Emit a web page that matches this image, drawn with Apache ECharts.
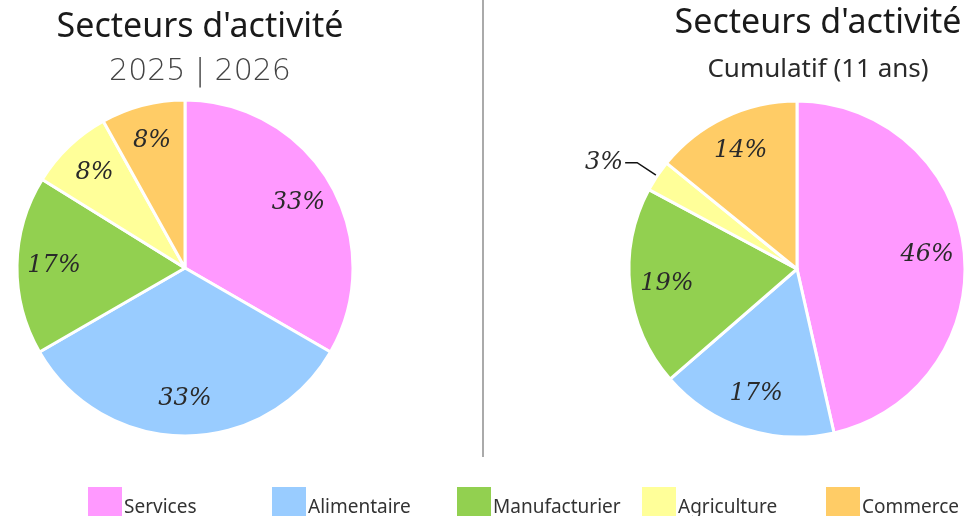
<!DOCTYPE html>
<html>
<head>
<meta charset="utf-8">
<script src="https://cdn.jsdelivr.net/npm/echarts@6/dist/echarts.min.js"></script>
<style>
  html, body { margin: 0; padding: 0; background: #fff; }
  #chart { width: 972px; height: 516px; }
</style>
</head>
<body>
<div id="chart"></div>
<script>
  // secteurs (legende)
  var categories = ['Services', 'Alimentaire', 'Manufacturier', 'Agriculture', 'Commerce']
  var values2025 = [33, 33, 17, 8, 8]
  var valuesCumul = [46, 17, 19, 3, 14]
  var colors = ['#FF99FF', '#99CCFF', '#92D050', '#FFFF99', '#FFCC66']

  var chart = echarts.init(document.getElementById('chart'))

  var labelFont = {
    color: '#2a2a2a',
    fontSize: 24,
    fontFamily: 'DejaVu Serif',
    fontStyle: 'italic',
    fontWeight: 'lighter'
  }

  // camembert plein (couleurs + etiquette exterieure eventuelle)
  function basePie(values, center, outsideName) {
    return {
      type: 'pie',
      center: center,
      radius: 168,
      startAngle: 90,
      clockwise: true,
      animation: false,
      itemStyle: { borderColor: '#fff', borderWidth: 3 },
      label: { show: false },
      labelLine: { show: false },
      emphasis: { disabled: true },
      data: categories.map(function (name, i) {
        var d = { name: name, value: values[i], itemStyle: { color: colors[i] } }
        if (name === outsideName) {
          d.label = Object.assign({ show: true, position: 'outside', formatter: '{c}%', distanceToLabelLine: 2 }, labelFont)
          d.labelLine = { show: true, length: 24, length2: 12, lineStyle: { color: '#111', width: 1.5 } }
        }
        return d
      })
    }
  }

  // anneau transparent pour placer les etiquettes a ~3/4 du rayon
  function labelRing(values, center, outsideName) {
    return {
      type: 'pie',
      center: center,
      radius: [88, 168],
      startAngle: 90,
      silent: true,
      animation: false,
      itemStyle: { color: 'rgba(0,0,0,0)' },
      labelLine: { show: false },
      label: Object.assign({ show: true, position: 'inside', formatter: '{c}%' }, labelFont),
      data: categories.map(function (name, i) {
        var d = { name: name, value: values[i] }
        if (name === outsideName) d.label = { show: false }
        return d
      })
    }
  }

  var legends = categories.map(function (name, i) {
    return {
      data: [name],
      left: [86, 270, 455, 640, 824][i],
      top: 485,
      itemWidth: 36,
      itemHeight: 34,
      itemGap: 0,
      padding: 0,
      selectedMode: false,
      icon: 'rect',
      formatter: '{a|{name}}',
      textStyle: {
        padding: [0, 0, 0, -4],
        rich: { a: { color: '#333', fontSize: 19, fontFamily: 'Noto Sans', padding: [10, 0, 0, 0] } }
      }
    }
  })

  var option = {
    backgroundColor: '#fff',
    color: colors,
    legend: legends,
    graphic: [
      { type: 'line', shape: { x1: 483, y1: 0, x2: 483, y2: 457 }, style: { stroke: '#aaa', lineWidth: 2 } },
      { type: 'text', x: 200, y: 27, style: { text: "Secteurs d'activité", fontSize: 34, fontFamily: 'Noto Sans', fill: '#1a1a1a', textAlign: 'center', textVerticalAlign: 'middle' } },
      { type: 'text', x: 200, y: 72, style: { text: '2025 | 2026', fontSize: 30, fontFamily: 'DejaVu Sans', fontWeight: 'lighter', fill: '#444', textAlign: 'center', textVerticalAlign: 'middle' } },
      { type: 'text', x: 818, y: 23, style: { text: "Secteurs d'activité", fontSize: 34, fontFamily: 'Noto Sans', fill: '#1a1a1a', textAlign: 'center', textVerticalAlign: 'middle' } },
      { type: 'text', x: 818, y: 70, style: { text: 'Cumulatif (11 ans)', fontSize: 26, fontFamily: 'Noto Sans', fill: '#2a2a2a', textAlign: 'center', textVerticalAlign: 'middle' } }
    ],
    series: [
      basePie(values2025, [185, 268], null),
      labelRing(values2025, [185, 268], null),
      basePie(valuesCumul, [797, 269], 'Agriculture'),
      labelRing(valuesCumul, [797, 269], 'Agriculture')
    ]
  }
  chart.setOption(option)
</script>
</body>
</html>
